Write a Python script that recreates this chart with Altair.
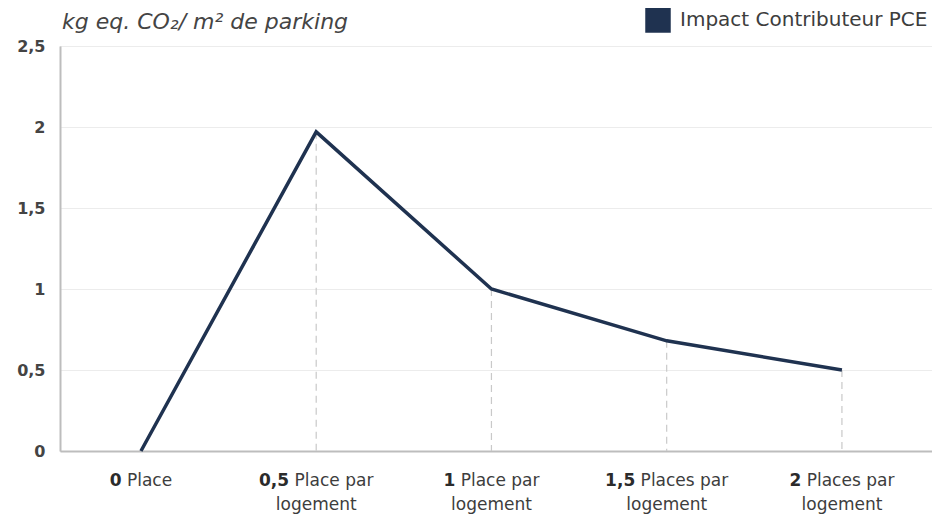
import altair as alt
import pandas as pd

# ---- data ----
places = [0, 0.5, 1, 1.5, 2]
impact = [0, 1.97, 1.0, 0.68, 0.5]
label_bold = ["0", "0,5", "1", "1,5", "2"]
label_rest = ["Place", "Place par", "Place par", "Places par", "Places par"]
label_line2 = ["", "logement", "logement", "logement", "logement"]
series_name = "Impact Contributeur PCE"
y_title = "kg eq. CO₂/ m² de parking"
y_ticks = [0, 0.5, 1, 1.5, 2, 2.5]

NAVY = "#1f3250"
FONT = "DejaVu Sans"
FS = 17

# approximate DejaVu Sans advance widths (units / 2048) to centre mixed-weight labels
REG = {' ': 651, ',': 651, 'P': 1235, 'l': 569, 'a': 1255, 'c': 1126, 'e': 1260,
       's': 1067, 'p': 1300, 'r': 842, 'o': 1253, 'g': 1300, 'm': 1995, 'n': 1298, 't': 803}
BOLD = {',': 780, ' ': 713}


def w(txt, bold=False):
    tot = 0
    for ch in txt:
        if ch.isdigit():
            tot += 1425 if bold else 1303
        else:
            tot += (BOLD.get(ch) if bold and ch in BOLD else REG.get(ch, 1200))
    return tot * FS / 2048


W, H = 872, 405
X0, X1 = -0.231, 2.257
PPU = W / (X1 - X0)  # pixels per data unit

SPACE = w(" ")
off_bold, off_rest = [], []
for b, r in zip(label_bold, label_rest):
    total = w(b, True) + SPACE + w(r)
    a = -total / 2 + w(b, True)
    off_bold.append(a / PPU)
    off_rest.append((a + SPACE) / PPU)

df = pd.DataFrame({
    "places": places,
    "impact": impact,
    "bold": label_bold,
    "rest": label_rest,
    "line2": label_line2,
    "ob": off_bold,
    "orr": off_rest,
    "serie": [series_name] * len(places),
})

xscale = alt.Scale(domain=[X0, X1], nice=False, zero=False)
yscale = alt.Scale(domain=[0, 2.5], nice=False)

base = alt.Chart(df)

drops = base.transform_filter("datum.impact > 0").mark_rule(
    color="#c9c9c9", strokeDash=[7, 5], strokeWidth=1.2
).encode(
    x=alt.X("places:Q", scale=xscale,
            axis=alt.Axis(labels=False, ticks=False, grid=False, title=None,
                          domainColor="#bdbdbd", domainWidth=2)),
    y=alt.Y("impact:Q", scale=yscale),
    y2=alt.datum(0),
)

line = base.mark_line(strokeWidth=3.5, strokeJoin="miter").encode(
    x=alt.X("places:Q", scale=xscale),
    y=alt.Y("impact:Q", scale=yscale,
            axis=alt.Axis(values=y_ticks, title=None, ticks=False,
                          labelExpr="replace(format(datum.value, '.1~f'), '.', ',')",
                          labelFont=FONT, labelFontSize=16, labelFontWeight=600,
                          labelColor="#444444", labelPadding=15,
                          gridColor="#ececec", gridWidth=1,
                          domainColor="#bdbdbd", domainWidth=2)),
    color=alt.Color("serie:N", scale=alt.Scale(domain=[series_name], range=[NAVY]),
                    legend=alt.Legend(title=None, orient="none", legendX=585, legendY=-39,
                                      symbolType="square", symbolSize=650,
                                      symbolFillColor=NAVY, symbolStrokeColor=NAVY,
                                      symbolStrokeWidth=0, labelLimit=400,
                                      labelFont=FONT, labelFontSize=20, labelColor="#3d3d3d",
                                      labelOffset=9)),
)

lab_bold = base.transform_calculate(xb="datum.places + datum.ob").mark_text(
    align="right", baseline="middle", font=FONT, fontSize=FS,
    fontWeight="bold", color="#2b2b2b").encode(
    x=alt.X("xb:Q", scale=xscale),
    y=alt.value(H + 30),
    text="bold:N",
)
lab_rest = base.transform_calculate(xr="datum.places + datum.orr").mark_text(
    align="left", baseline="middle", font=FONT, fontSize=FS,
    color="#3d3d3d").encode(
    x=alt.X("xr:Q", scale=xscale),
    y=alt.value(H + 30),
    text="rest:N",
)
lab_2 = base.mark_text(align="center", baseline="middle", font=FONT, fontSize=FS,
                       color="#3d3d3d").encode(
    x=alt.X("places:Q", scale=xscale),
    y=alt.value(H + 54),
    text="line2:N",
)

title = alt.Chart(pd.DataFrame({"t": [y_title]})).mark_text(
    align="left", baseline="middle", font=FONT, fontSize=22, fontStyle="italic",
    color="#444444"
).encode(x=alt.value(2), y=alt.value(-24), text="t:N")

chart = alt.layer(drops, line, lab_bold, lab_rest, lab_2, title).properties(
    width=W, height=H,
    autosize=alt.AutoSizeParams(type="none"),
    padding={"left": 52, "top": 38, "right": 0, "bottom": 64},
).configure_view(stroke=None).configure(background="white")

chart.save("out.html", embed_options={"renderer": "svg", "actions": False})
